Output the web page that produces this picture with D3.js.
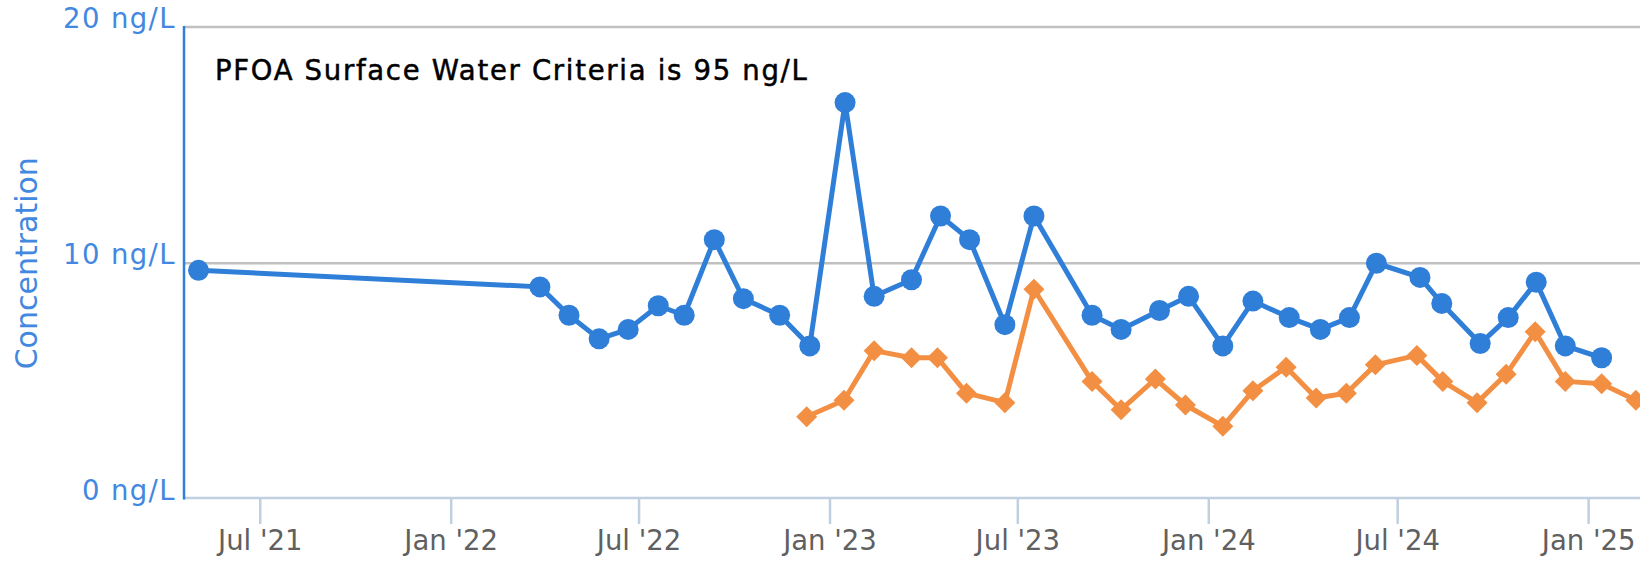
<!DOCTYPE html>
<html>
<head>
<meta charset="utf-8">
<script src="https://cdn.jsdelivr.net/npm/d3@7"></script>
<style>
  html, body { margin: 0; padding: 0; background: #fff; }
  svg { display: block; }
  text { font-family: "DejaVu Sans", Verdana, sans-serif; }
</style>
</head>
<body>
<script>
// ---- data ----
const blueDates = ["2021-05-03","2022-03-28","2022-04-25","2022-05-24","2022-06-21","2022-07-20","2022-08-14","2022-09-12","2022-10-10","2022-11-14","2022-12-13","2023-01-16","2023-02-13","2023-03-21","2023-04-18","2023-05-16","2023-06-19","2023-07-17","2023-09-11","2023-10-09","2023-11-15","2023-12-13","2024-01-15","2024-02-13","2024-03-19","2024-04-18","2024-05-16","2024-06-11","2024-07-23","2024-08-13","2024-09-19","2024-10-16","2024-11-12","2024-12-10","2025-01-14"];
const blueValues = [9.7, 9.0, 7.8, 6.8, 7.2, 8.2, 7.8, 11.0, 8.5, 7.8, 6.5, 16.8, 8.6, 9.3, 12.0, 11.0, 7.4, 12.0, 7.8, 7.2, 8.0, 8.6, 6.5, 8.4, 7.7, 7.2, 7.7, 10.0, 9.4, 8.3, 6.6, 7.7, 9.2, 6.5, 6.0];

const orangeDates = ["2022-12-10","2023-01-15","2023-02-13","2023-03-21","2023-04-15","2023-05-13","2023-06-19","2023-07-17","2023-09-11","2023-10-09","2023-11-11","2023-12-10","2024-01-15","2024-02-13","2024-03-16","2024-04-14","2024-05-13","2024-06-10","2024-07-20","2024-08-14","2024-09-16","2024-10-14","2024-11-11","2024-12-10","2025-01-14","2025-02-16"];
const orangeValues = [3.5, 4.2, 6.3, 6.0, 6.0, 4.5, 4.1, 8.9, 5.0, 3.8, 5.1, 4.0, 3.1, 4.6, 5.6, 4.3, 4.5, 5.7, 6.1, 5.0, 4.1, 5.3, 7.1, 5.0, 4.9, 4.2];

const xTickDates = ["2021-07-01","2022-01-01","2022-07-01","2023-01-01","2023-07-01","2024-01-01","2024-07-01","2025-01-01"];
const xTickLabels = ["Jul '21","Jan '22","Jul '22","Jan '23","Jul '23","Jan '24","Jul '24","Jan '25"];
const yTickValues = [0, 10, 20];
const yTickLabels = ["0 ng/L", "10 ng/L", "20 ng/L"];
const xDomain = ["2021-04-19", "2025-02-20"];
const yDomain = [0, 20];
const chartTitle = "PFOA Surface Water Criteria is 95 ng/L";
const yAxisTitle = "Concentration";

// ---- layout ----
const W = 1640, H = 561;
const plot = { left: 184, right: 1640, top: 27, bottom: 499.5 };
const BLUE = "#2f7ed8", ORANGE = "#f28f43";

const parse = d3.utcParse("%Y-%m-%d");
const x = d3.scaleUtc().domain(xDomain.map(parse)).range([plot.left, plot.right]);
const y = d3.scaleLinear().domain(yDomain).range([plot.bottom, plot.top]);

const svg = d3.select("body").append("svg").attr("width", W).attr("height", H);

// grid lines
svg.append("g").selectAll("line").data(yTickValues.filter(v => v > 0)).join("line")
  .attr("x1", plot.left).attr("x2", plot.right)
  .attr("y1", d => y(d)).attr("y2", d => y(d))
  .attr("stroke", "#c0c0c0").attr("stroke-width", 2.5);

// x axis
const xAxis = d3.axisBottom(x)
  .tickValues(xTickDates.map(parse))
  .tickFormat((d, i) => xTickLabels[i])
  .tickSize(26).tickSizeOuter(0).tickPadding(6);
const gx = svg.append("g").attr("transform", `translate(0,${plot.bottom - 1.5})`).call(xAxis);
gx.select(".domain").attr("stroke", "#c0d0e0").attr("stroke-width", 2.5)
  .attr("d", `M${plot.left},0H${plot.right}`);
gx.selectAll(".tick line").attr("stroke", "#c0d0e0").attr("stroke-width", 2.5);
gx.selectAll(".tick text").attr("fill", "#606060").attr("font-size", 27.5)
  .attr("font-family", "'DejaVu Sans', sans-serif").attr("dy", "0.71em");

// y axis
const yAxis = d3.axisLeft(y)
  .tickValues(yTickValues)
  .tickFormat((d, i) => yTickLabels[i])
  .tickSize(0).tickPadding(8);
const gy = svg.append("g").attr("transform", `translate(${plot.left},0)`).call(yAxis);
gy.select(".domain").attr("stroke", BLUE).attr("stroke-width", 2.5)
  .attr("d", `M0,${plot.top - 1}V${plot.bottom}`);
gy.selectAll(".tick text").attr("fill", "#4288e0").attr("font-size", 27.5)
  .attr("font-family", "'DejaVu Sans', sans-serif")
  .attr("letter-spacing", 1.4).attr("dy", 0).attr("y", 0);

// y axis title
svg.append("text")
  .attr("transform", `translate(37,${(plot.top + plot.bottom) / 2}) rotate(-90)`)
  .attr("text-anchor", "middle")
  .attr("fill", "#4288e0").attr("font-size", 30)
  .text(yAxisTitle);

// chart annotation title
svg.append("text")
  .attr("x", 215).attr("y", 79.5)
  .attr("fill", "#000").attr("stroke", "#000").attr("stroke-width", 0.5)
  .attr("font-size", 27.5).attr("letter-spacing", 1.7)
  .text(chartTitle);

// series
const blue = blueDates.map((d, i) => ({ date: parse(d), value: blueValues[i] }));
const orange = orangeDates.map((d, i) => ({ date: parse(d), value: orangeValues[i] }));
const line = d3.line().x(d => x(d.date)).y(d => y(d.value));

svg.append("defs").append("clipPath").attr("id", "clip")
  .append("rect").attr("x", plot.left - 15).attr("y", 0)
  .attr("width", plot.right - plot.left + 30).attr("height", plot.bottom + 15);

const gs = svg.append("g").attr("clip-path", "url(#clip)");

gs.append("path").datum(blue).attr("d", line)
  .attr("fill", "none").attr("stroke", BLUE).attr("stroke-width", 5)
  .attr("stroke-linejoin", "round").attr("stroke-linecap", "round");
gs.append("g").selectAll("circle").data(blue).join("circle")
  .attr("cx", d => x(d.date)).attr("cy", d => y(d.value)).attr("r", 10.5)
  .attr("fill", BLUE);

gs.append("path").datum(orange).attr("d", line)
  .attr("fill", "none").attr("stroke", ORANGE).attr("stroke-width", 5)
  .attr("stroke-linejoin", "round").attr("stroke-linecap", "round");
const dr = 10.5;
gs.append("g").selectAll("path").data(orange).join("path")
  .attr("d", d => {
    const cx = x(d.date), cy = y(d.value);
    return `M${cx},${cy - dr}L${cx + dr},${cy}L${cx},${cy + dr}L${cx - dr},${cy}Z`;
  })
  .attr("fill", ORANGE);
</script>
</body>
</html>
